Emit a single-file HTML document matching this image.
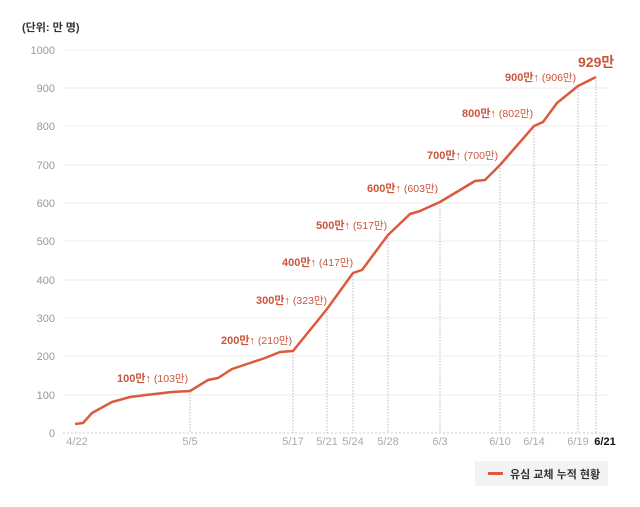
<!DOCTYPE html>
<html><head><meta charset="utf-8"><style>
body{margin:0;background:#fff;}
svg text{font-family:"Liberation Sans","Noto Sans CJK KR",sans-serif;}
</style></head><body>
<svg width="640" height="502" viewBox="0 0 640 502" xmlns="http://www.w3.org/2000/svg">
<text x="22" y="31" font-size="11" fill="#333" font-weight="bold">(단위: 만 명)</text>
<g stroke="#ececec" stroke-width="1">
<line x1="63" x2="608" y1="50" y2="50"/><line x1="63" x2="608" y1="88" y2="88"/>
<line x1="63" x2="608" y1="126" y2="126"/><line x1="63" x2="608" y1="165" y2="165"/>
<line x1="63" x2="608" y1="203" y2="203"/><line x1="63" x2="608" y1="241" y2="241"/>
<line x1="63" x2="608" y1="280" y2="280"/><line x1="63" x2="608" y1="318" y2="318"/>
<line x1="63" x2="608" y1="356" y2="356"/><line x1="63" x2="608" y1="395" y2="395"/>
</g>
<line x1="63" x2="608" y1="433" y2="433" stroke="#ccc" stroke-dasharray="2 2"/>
<g font-size="11" fill="#999" text-anchor="end">
<text x="55" y="54">1000</text><text x="55" y="92">900</text><text x="55" y="130">800</text>
<text x="55" y="169">700</text><text x="55" y="207">600</text><text x="55" y="245">500</text>
<text x="55" y="284">400</text><text x="55" y="322">300</text><text x="55" y="360">200</text>
<text x="55" y="399">100</text><text x="55" y="437">0</text>
</g>
<g stroke="#bbb" stroke-dasharray="1.5 1.5" stroke-width="1">
<line x1="190" x2="190" y1="391" y2="433"/><line x1="293" x2="293" y1="351" y2="433"/>
<line x1="327" x2="327" y1="309" y2="433"/><line x1="353" x2="353" y1="273" y2="433"/>
<line x1="388" x2="388" y1="235" y2="433"/><line x1="440" x2="440" y1="202" y2="433"/>
<line x1="500" x2="500" y1="165" y2="433"/><line x1="534" x2="534" y1="126" y2="433"/>
<line x1="578" x2="578" y1="86" y2="433"/><line x1="596" x2="596" y1="77" y2="433"/>
</g>
<polyline fill="none" stroke="#dc5a3c" stroke-width="2.5" stroke-linejoin="round" points="75,424 83,423 92,413 112,402 130,397 146,395 172,392 190,391 208,380 218,378 232,369 250,363 265,358 280,352 293,351 327,309 353,273 362,270 388,235 410,214 420,211 440,202 475,181 485,180 500,165 534,126 543,122 557,103 578,86 596,77"/>
<g font-size="11" fill="#aaa" text-anchor="middle">
<text x="77" y="445">4/22</text><text x="190" y="445">5/5</text><text x="293" y="445">5/17</text>
<text x="327" y="445">5/21</text><text x="353" y="445">5/24</text><text x="388" y="445">5/28</text>
<text x="440" y="445">6/3</text><text x="500" y="445">6/10</text><text x="534" y="445">6/14</text>
<text x="578" y="445">6/19</text><text x="605" y="445" fill="#111" font-weight="bold">6/21</text>
</g>
<g font-size="11" fill="#c9553d">
<text x="117" y="382"><tspan font-weight="bold">100만↑</tspan><tspan font-size="10.5"> (103만)</tspan></text>
<text x="221" y="344"><tspan font-weight="bold">200만↑</tspan><tspan font-size="10.5"> (210만)</tspan></text>
<text x="256" y="304"><tspan font-weight="bold">300만↑</tspan><tspan font-size="10.5"> (323만)</tspan></text>
<text x="282" y="266"><tspan font-weight="bold">400만↑</tspan><tspan font-size="10.5"> (417만)</tspan></text>
<text x="316" y="229"><tspan font-weight="bold">500만↑</tspan><tspan font-size="10.5"> (517만)</tspan></text>
<text x="367" y="192"><tspan font-weight="bold">600만↑</tspan><tspan font-size="10.5"> (603만)</tspan></text>
<text x="427" y="159"><tspan font-weight="bold">700만↑</tspan><tspan font-size="10.5"> (700만)</tspan></text>
<text x="462" y="117"><tspan font-weight="bold">800만↑</tspan><tspan font-size="10.5"> (802만)</tspan></text>
<text x="505" y="81"><tspan font-weight="bold">900만↑</tspan><tspan font-size="10.5"> (906만)</tspan></text>
<text x="578" y="67" font-size="14" font-weight="bold">929만</text>
</g>
<rect x="475" y="461" width="133" height="25" fill="#f3f3f3"/>
<line x1="488" x2="503" y1="473.5" y2="473.5" stroke="#dc5a3c" stroke-width="3"/>
<text x="510" y="478" font-size="11" fill="#333" font-weight="bold">유심 교체 누적 현황</text>
</svg>
</body></html>
